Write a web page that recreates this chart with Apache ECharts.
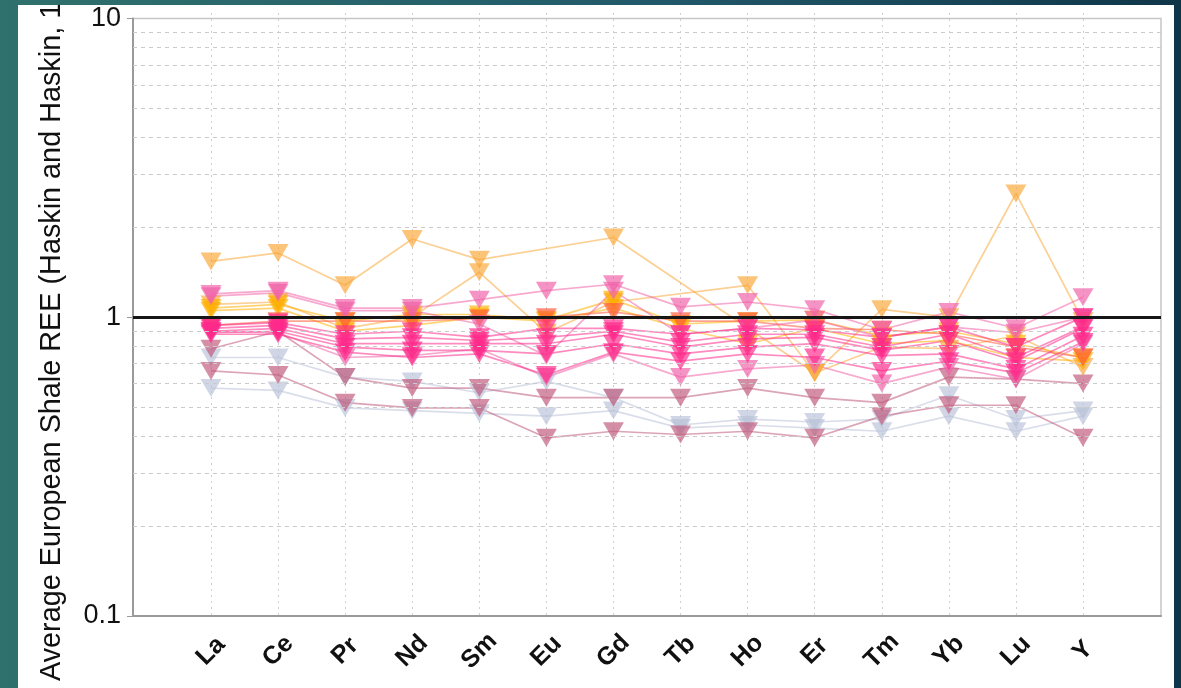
<!DOCTYPE html>
<html>
<head>
<meta charset="utf-8">
<script src="https://cdn.jsdelivr.net/npm/echarts@6/dist/echarts.min.js"></script>
<style>
  html, body { margin: 0; padding: 0; width: 1181px; height: 688px; overflow: hidden; }
  body { background: linear-gradient(90deg, #2f716c 0%, #22596a 55%, #0f3648 100%); }
  #chart { position: absolute; left: 18px; top: 5px; width: 1156px; height: 683px; background: #ffffff; }
</style>
</head>
<body>
<div id="chart"></div>
<script>
// Rare earth elements, shale-normalised (values relative to the average European shale)
const elements = ['La', 'Ce', 'Pr', 'Nd', 'Sm', 'Eu', 'Gd', 'Tb', 'Ho', 'Er', 'Tm', 'Yb', 'Lu', 'Y'];
const minorLevels = [0.2, 0.3, 0.4, 0.5, 0.6, 0.7, 0.8, 0.9, 2, 3, 4, 5, 6, 7, 8, 9];
const shaleLevel = 1;
const axisName = 'Average European Shale REE (Haskin and Haskin, 1984)';

// samples (null = not reported)
const orange1 = [1.50, 1.60, 1.25, 1.78, 1.52, null, 1.80, null, null, 0.64, 1.04, 0.98, 2.52, 0.95];
const orange2 = [1.08, 1.10, 0.90, 0.98, 1.38, 0.87, 1.10, null, 1.25, 0.64, 0.78, 0.77, 0.85, 0.67];
const amber1  = [1.05, 1.08, 0.95, 1.00, 1.00, 0.96, 1.12, 0.93, 0.95, 0.96, 0.85, 0.88, 0.80, 0.72];
const amber2  = [1.03, 1.05, 0.88, 0.92, 0.98, 0.95, 1.05, 0.90, 0.80, 0.90, 0.80, 0.82, 0.72, 0.70];
const coral1  = [0.92, 0.95, 0.95, 0.95, 0.97, 0.98, 1.02, 0.95, 0.95, 0.90, 0.89, 0.86, 0.78, 0.72];
const pink1   = [1.17, 1.20, 1.05, 1.05, 1.12, 1.20, 1.26, 1.06, 1.10, 1.04, 0.89, 1.02, 0.90, 1.14];
const pink2   = [1.15, 1.18, 1.03, 1.03, 0.93, 0.73, 1.20, 0.86, 0.90, 0.96, 0.84, 0.91, 0.87, 0.98];
const pink3   = [0.88, 0.87, 0.72, 0.73, 0.77, 0.62, 0.74, 0.62, 0.66, 0.68, 0.59, 0.67, 0.61, 0.80];
const rose1   = [0.92, 0.94, 0.86, 0.88, 0.84, 0.90, 0.90, 0.86, 0.90, 0.89, 0.84, 0.91, 0.78, 0.98];
const rose2   = [0.90, 0.92, 0.83, 0.84, 0.82, 0.84, 0.88, 0.81, 0.86, 0.86, 0.78, 0.86, 0.72, 0.91];
const rose3   = [0.88, 0.90, 0.80, 0.80, 0.80, 0.80, 0.86, 0.78, 0.83, 0.84, 0.76, 0.82, 0.70, 0.90];
const rose4   = [0.87, 0.88, 0.78, 0.76, 0.76, 0.74, 0.80, 0.74, 0.78, 0.80, 0.73, 0.74, 0.66, 0.85];
const rose5   = [0.86, 0.86, 0.75, 0.72, 0.74, 0.63, 0.75, 0.70, 0.74, 0.72, 0.65, 0.70, 0.64, 0.81];
const mauve1  = [0.77, 0.88, 0.62, 0.57, 0.57, 0.53, 0.53, 0.53, 0.57, 0.53, 0.51, 0.62, 0.61, 0.59];
const mauve2  = [0.65, 0.63, 0.51, 0.49, 0.49, 0.39, 0.41, 0.40, 0.41, 0.39, 0.46, 0.50, 0.50, 0.39];
const grey1   = [0.72, 0.72, 0.62, 0.60, 0.55, 0.60, 0.53, 0.43, 0.45, 0.44, 0.45, 0.54, 0.45, 0.48];
const grey2   = [0.57, 0.56, 0.49, 0.48, 0.47, 0.46, 0.48, 0.42, 0.43, 0.42, 0.41, 0.46, 0.41, 0.46];

// drawing order: back to front
const samples = [
  { name: 'grey 1',   color: '#b9c3d9', data: grey1 },
  { name: 'grey 2',   color: '#b9c3d9', data: grey2 },
  { name: 'mauve 1',  color: '#c05a7c', data: mauve1 },
  { name: 'mauve 2',  color: '#c05a7c', data: mauve2 },
  { name: 'orange 1', color: '#f9a83a', data: orange1 },
  { name: 'orange 2', color: '#f9a83a', data: orange2 },
  { name: 'amber 1',  color: '#ffb000', data: amber1 },
  { name: 'amber 2',  color: '#ffb000', data: amber2 },
  { name: 'coral 1',  color: '#ff5a3c', data: coral1 },
  { name: 'pink 1',   color: '#f062a8', data: pink1 },
  { name: 'pink 2',   color: '#f062a8', data: pink2 },
  { name: 'pink 3',   color: '#f062a8', data: pink3 },
  { name: 'rose 1',   color: '#ff2a8a', data: rose1 },
  { name: 'rose 2',   color: '#ff2a8a', data: rose2 },
  { name: 'rose 3',   color: '#ff2a8a', data: rose3 },
  { name: 'rose 4',   color: '#ff2a8a', data: rose4 },
  { name: 'rose 5',   color: '#ff2a8a', data: rose5 }
];

const chart = echarts.init(document.getElementById('chart'), null, { renderer: 'canvas' });

const sampleSeries = samples.map(s => ({
  name: s.name,
  type: 'line',
  xAxisIndex: 1,
  yAxisIndex: 1,
  data: s.data,
  connectNulls: true,
  symbol: 'triangle',
  symbolRotate: 180,
  symbolSize: [21, 18],
  showSymbol: true,
  silent: true,
  lineStyle: { color: s.color, width: 1.7, opacity: 0.55 },
  itemStyle: { color: s.color, opacity: 0.68 },
  emphasis: { disabled: true },
  z: 3
}));

const option = {
  animation: false,
  grid: [
    { left: 115, top: 8, width: 1028, height: 603, show: true, borderColor: '#c6c6c6', borderWidth: 1.5, backgroundColor: 'transparent' },
    { left: 193, top: 8, width: 872, height: 603 }
  ],
  xAxis: [
    {
      gridIndex: 0, type: 'value', min: 0, max: 1,
      axisLine: { show: true, onZero: false, lineStyle: { color: '#9a9a9a', width: 2 } },
      axisTick: { show: false }, axisLabel: { show: false }, splitLine: { show: false }
    },
    {
      gridIndex: 1, type: 'category', data: elements, boundaryGap: false,
      axisLine: { show: false }, axisTick: { show: false },
      axisLabel: {
        interval: 0, rotate: 45, align: 'center', verticalAlign: 'middle', margin: 35,
        fontSize: 25, fontWeight: 'bold', color: '#111111', fontFamily: 'Liberation Sans, Arial, sans-serif'
      },
      splitLine: { show: true, lineStyle: { color: '#cfcfcf', type: [2, 4], width: 1 } }
    }
  ],
  yAxis: [
    {
      gridIndex: 0, type: 'log', logBase: 10, min: 0.1, max: 10,
      axisLine: { show: true, lineStyle: { color: '#9a9a9a', width: 2 } },
      axisTick: { show: true, inside: false, length: 6, lineStyle: { color: '#9a9a9a' } },
      axisLabel: { fontSize: 27, color: '#111111', margin: 12, fontFamily: 'Liberation Sans, Arial, sans-serif' },
      splitLine: { show: false }
    },
    { gridIndex: 1, type: 'log', logBase: 10, min: 0.1, max: 10, show: false }
  ],
  graphic: [
    {
      type: 'text', x: 34, y: 676, rotation: Math.PI / 2, silent: true,
      style: {
        text: axisName, fill: '#111111', font: '28.8px "Liberation Sans", Arial, sans-serif',
        textAlign: 'left', textVerticalAlign: 'middle'
      }
    }
  ],
  series: [
    {
      name: 'grid levels', type: 'line', xAxisIndex: 0, yAxisIndex: 0, data: [], silent: true, z: 1,
      markLine: {
        silent: true, symbol: ['none', 'none'], label: { show: false },
        lineStyle: { color: '#cbcbcb', type: [4, 4], width: 1 },
        data: minorLevels.map(v => ({ yAxis: v }))
      }
    },
    ...sampleSeries,
    {
      name: 'shale level', type: 'line', xAxisIndex: 0, yAxisIndex: 0, data: [], silent: true, z: 10,
      markLine: {
        silent: true, symbol: ['none', 'none'], label: { show: false },
        lineStyle: { color: '#161616', width: 3, type: 'solid' },
        data: [{ yAxis: shaleLevel }]
      }
    }
  ]
};

chart.setOption(option);
</script>
</body>
</html>
